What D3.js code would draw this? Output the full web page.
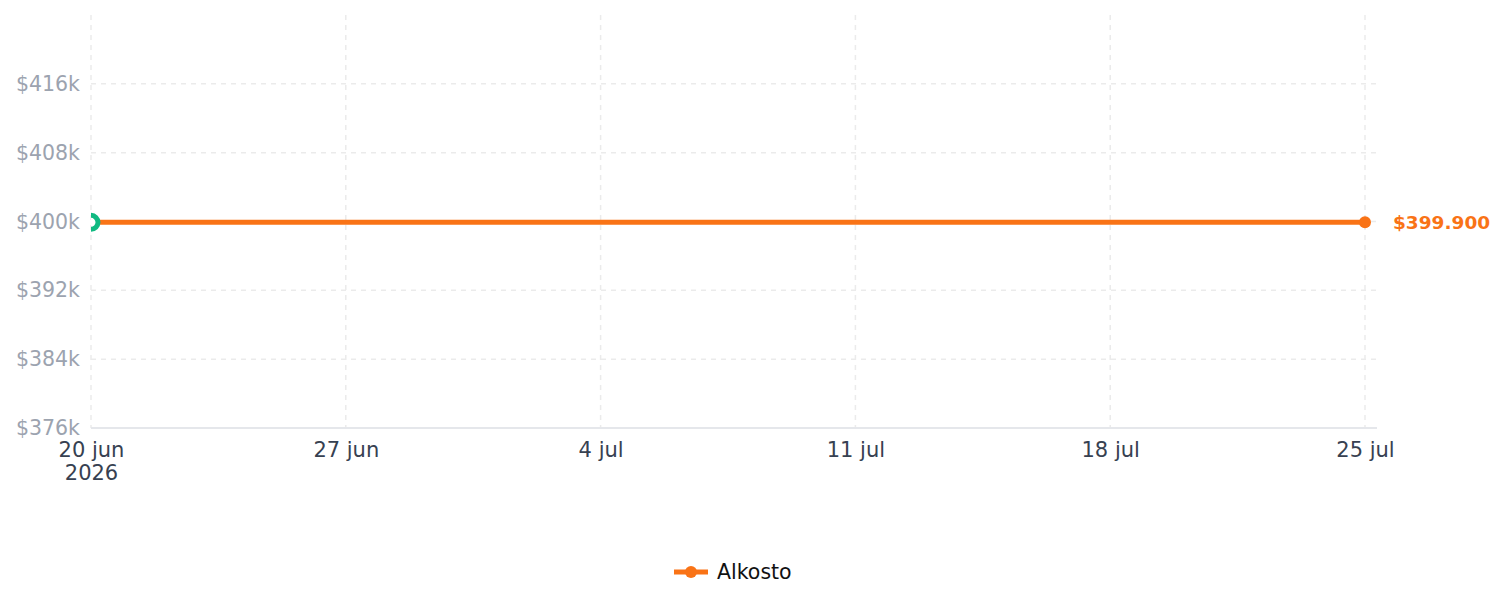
<!DOCTYPE html>
<html>
<head>
<meta charset="utf-8">
<script src="https://cdn.jsdelivr.net/npm/d3@7"></script>
<style>
  body { margin: 0; background: #fff; font-family: "DejaVu Sans", sans-serif; }
</style>
</head>
<body>
<div id="chart"></div>
<script>
// datos
var seriesName = "Alkosto";
var fechas = ["2026-06-20", "2026-07-25"];
var precios = [399900, 399900];
var tickFechas = ["2026-06-20", "2026-06-27", "2026-07-04", "2026-07-11", "2026-07-18", "2026-07-25"];
var tickPrecios = [376000, 384000, 392000, 400000, 408000, 416000];
var meses = ["ene", "feb", "mar", "abr", "may", "jun", "jul", "ago", "sep", "oct", "nov", "dic"];

var parse = d3.utcParse("%Y-%m-%d");
var data = fechas.map(function(f, i) { return { fecha: parse(f), precio: precios[i] }; });

var width = 1505, height = 607;
var margin = { top: 15, left: 91, right: 128, bottom: 179 };
var innerW = width - margin.left - margin.right;
var innerH = height - margin.top - margin.bottom;

var svg = d3.select("#chart").append("svg")
  .attr("width", width)
  .attr("height", height);

var g = svg.append("g").attr("transform", "translate(" + margin.left + "," + margin.top + ")");

// escalas
var x = d3.scaleUtc()
  .domain([parse(tickFechas[0]), parse(tickFechas[tickFechas.length - 1])])
  .range([0, innerW - 12]);
var y = d3.scaleLinear()
  .domain([376000, 424000])
  .range([innerH, 0]);

// grilla vertical
g.selectAll(".vgrid")
  .data(tickFechas.map(parse))
  .enter().append("line")
  .attr("class", "vgrid")
  .attr("x1", function(d) { return x(d); })
  .attr("x2", function(d) { return x(d); })
  .attr("y1", 0)
  .attr("y2", innerH)
  .attr("stroke", "#ebebeb")
  .attr("stroke-width", 1.5)
  .attr("stroke-dasharray", "5,5");

// grilla horizontal
g.selectAll(".hgrid")
  .data(tickPrecios.slice(1))
  .enter().append("line")
  .attr("class", "hgrid")
  .attr("x1", 0)
  .attr("x2", innerW)
  .attr("y1", function(d) { return y(d); })
  .attr("y2", function(d) { return y(d); })
  .attr("stroke", "#ebebeb")
  .attr("stroke-width", 1.5)
  .attr("stroke-dasharray", "5,5");

// eje x
var xAxis = d3.axisBottom(x)
  .tickValues(tickFechas.map(parse))
  .tickSize(0)
  .tickPadding(14)
  .tickFormat(function(d) { return d.getUTCDate() + " " + meses[d.getUTCMonth()]; });

var gx = g.append("g")
  .attr("transform", "translate(0," + innerH + ")")
  .call(xAxis);
gx.select(".domain").remove();
gx.selectAll("text")
  .attr("fill", "#374151")
  .style("font-size", "21px")
  .style("font-family", "DejaVu Sans, sans-serif");
gx.selectAll(".tick").filter(function(d, i) { return i === 0; })
  .select("text")
  .append("tspan")
  .attr("x", 0)
  .attr("dy", "1.1em")
  .text(function(d) { return d.getUTCFullYear(); });

g.append("line")
  .attr("x1", 0).attr("x2", innerW)
  .attr("y1", innerH).attr("y2", innerH)
  .attr("stroke", "#e5e7eb")
  .attr("stroke-width", 2);

// eje y
var yAxis = d3.axisLeft(y)
  .tickValues(tickPrecios)
  .tickSize(0)
  .tickPadding(11)
  .tickFormat(function(d) { return "$" + (d / 1000) + "k"; });

var gy = g.append("g").call(yAxis);
gy.select(".domain").remove();
gy.selectAll("text")
  .attr("fill", "#9ca3af")
  .style("font-size", "20.5px")
  .style("font-family", "DejaVu Sans, sans-serif");

// linea
var line = d3.line()
  .x(function(d) { return x(d.fecha); })
  .y(function(d) { return y(d.precio); });

g.append("path")
  .datum(data)
  .attr("fill", "none")
  .attr("stroke", "#f97316")
  .attr("stroke-width", 5)
  .attr("d", line);

// recorte para el marcador inicial
svg.append("clipPath").attr("id", "clip")
  .append("rect")
  .attr("x", 0).attr("y", -margin.top)
  .attr("width", innerW + margin.right).attr("height", innerH + margin.top);

var ultimo = data[data.length - 1];
g.append("circle")
  .attr("cx", x(ultimo.fecha))
  .attr("cy", y(ultimo.precio))
  .attr("r", 6)
  .attr("fill", "#f97316");

g.append("circle")
  .attr("clip-path", "url(#clip)")
  .attr("cx", x(data[0].fecha))
  .attr("cy", y(data[0].precio))
  .attr("r", 7)
  .attr("fill", "#fff")
  .attr("stroke", "#10b981")
  .attr("stroke-width", 5);

g.append("text")
  .attr("x", x(ultimo.fecha) + 28)
  .attr("y", y(ultimo.precio))
  .attr("dy", "0.35em")
  .attr("fill", "#f97316")
  .style("font-size", "18.5px")
  .style("font-weight", "bold")
  .text("$" + d3.format(",")(ultimo.precio).replace(/,/g, "."));

// leyenda
var leg = svg.append("g").attr("transform", "translate(674,572)");
leg.append("line")
  .attr("x1", 0).attr("x2", 34)
  .attr("stroke", "#f97316")
  .attr("stroke-width", 5);
leg.append("circle")
  .attr("cx", 17)
  .attr("r", 6)
  .attr("fill", "#f97316");
leg.append("text")
  .attr("x", 43)
  .attr("dy", "0.35em")
  .attr("fill", "#111")
  .style("font-size", "20.5px")
  .text(seriesName);
</script>
</body>
</html>
